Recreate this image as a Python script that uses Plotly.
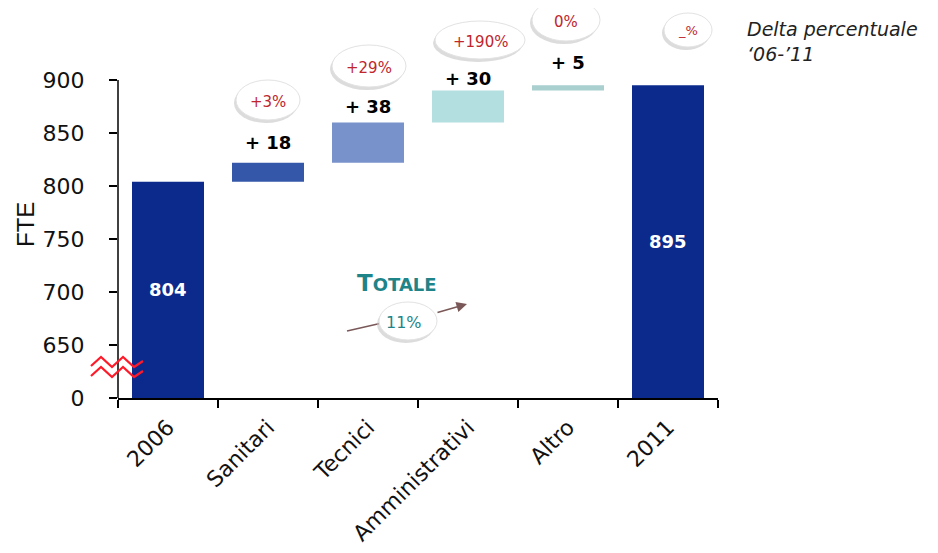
import plotly.graph_objects as go

# ---- data ----
categories = ["2006", "Sanitari", "Tecnici", "Amministrativi", "Altro", "2011"]
start_total = 804
deltas = [18, 38, 30, 5]
end_total = 895
delta_labels = ["+ 18", "+ 38", "+ 30", "+ 5"]
pct_labels = ["+3%", "+29%", "+190%", "0%"]
total_pct_label = "_%"
overall_pct = "11%"
ytick_vals = [600, 650, 700, 750, 800, 850, 900]
ytick_text = ["0", "650", "700", "750", "800", "850", "900"]

# ---- geometry: page is offset 8px by the body margin ----
OFF = 8
W, H = 938 - OFF, 553 - OFF
PLOT_L, PLOT_R, PLOT_B = 118, 718, 398          # page pixels of the plot area
L, R, B, T = PLOT_L - OFF, W - (PLOT_R - OFF), H - (PLOT_B - OFF), 0
Y0 = 600
PX_PER_UNIT = (398 - 80) / 300.0
Y1 = Y0 + (PLOT_B - OFF) / PX_PER_UNIT
PX_PER_CAT = (PLOT_R - PLOT_L) / 6.0

def dx(px):  # page pixel x -> category-axis coordinate
    return (px - PLOT_L) / PX_PER_CAT - 0.5

def px_paper(px):
    return (px - PLOT_L) / (PLOT_R - PLOT_L)

def dy(py):  # page pixel y -> data y
    return Y0 + (PLOT_B - py) / PX_PER_UNIT

FONT = "DejaVu Sans, Liberation Sans, Arial, sans-serif"
dark = "#0b2a8c"
bar_colors = [dark, "#3457a9", "#7892cc", "#b4dfe0", "#a9cfcf", dark]

# waterfall bases
bases = [0]
heights = [start_total]
run = start_total
for d in deltas:
    bases.append(run)
    heights.append(d)
    run += d
bases.append(0)
heights.append(end_total)

fig = go.Figure()
fig.add_trace(go.Bar(
    x=categories, y=heights, base=bases, width=0.72,
    marker=dict(color=bar_colors, line=dict(width=0)),
    hoverinfo="skip", showlegend=False,
))

shapes = []
annotations = []

# y axis line (only up to 900)
shapes.append(dict(type="line", xref="paper", yref="y", x0=0, x1=0, y0=Y0, y1=900,
                   line=dict(color="black", width=1.5), layer="above"))

# values inside first and last bars
for i, v in [(0, start_total), (5, end_total)]:
    annotations.append(dict(x=i, y=(Y0 + v) / 2, text=f"<b>{v}</b>",
                            showarrow=False, font=dict(color="white", size=18)))

# delta labels above bars
shifts = [8, 3, 0, 10]
for k, (d, lab) in enumerate(zip(deltas, delta_labels)):
    top = bases[k + 1] + heights[k + 1]
    annotations.append(dict(x=k + 1, y=top, yanchor="bottom", yshift=shifts[k],
                            text=f"<b>{lab}</b>", showarrow=False,
                            font=dict(color="black", size=18)))

# bubbles
def bubble(cx, cy, w, h):
    shapes.append(dict(type="circle", xref="x", yref="y",
                       x0=dx(cx - w / 2 - 2), x1=dx(cx + w / 2 - 2),
                       y0=dy(cy + h / 2 + 3), y1=dy(cy - h / 2 + 3),
                       fillcolor="#c4c4c4", opacity=0.6, line=dict(width=0), layer="above"))
    shapes.append(dict(type="circle", xref="x", yref="y",
                       x0=dx(cx - w / 2), x1=dx(cx + w / 2),
                       y0=dy(cy + h / 2), y1=dy(cy - h / 2),
                       fillcolor="white", line=dict(color="#e2e2e2", width=1), layer="above"))

bubble_px = [(268, 100, 64, 40), (369, 66, 74, 42), (480, 40, 90, 38), (566, 20, 68, 42)]
for (cx, cy, w, h), lab in zip(bubble_px, pct_labels):
    bubble(cx, cy, w, h)
    annotations.append(dict(x=dx(cx), y=dy(cy + 2), text=lab, showarrow=False,
                            font=dict(color="#c0262c", size=15)))
bubble(688, 30, 48, 34)
annotations.append(dict(x=dx(688), y=dy(30), text=total_pct_label, showarrow=False,
                        font=dict(color="#c0262c", size=13)))

# note
annotations.append(dict(xref="paper", x=px_paper(745), y=dy(41), xanchor="left",
                        text="<i>Delta percentuale<br>‘06-’11</i>", showarrow=False, align="left",
                        font=dict(color="#222222", size=19)))

# TOTALE arrow
shapes.append(dict(type="line", xref="x", yref="y", x0=dx(347), y0=dy(331), x1=dx(382), y1=dy(323),
                   line=dict(color="#7a5858", width=1.5), layer="above"))
bubble(408, 321, 58, 38)
annotations.append(dict(x=dx(467), y=dy(304), ax=dx(436), ay=dy(313), axref="x", ayref="y",
                        xref="x", yref="y", text="", showarrow=True, arrowhead=2,
                        arrowsize=1.4, arrowwidth=1.5, arrowcolor="#7a5858"))
annotations.append(dict(x=dx(404), y=dy(322), text=overall_pct, showarrow=False,
                        font=dict(color="#1f8488", size=16)))
annotations.append(dict(x=dx(397), y=dy(283), showarrow=False,
                        text="<b><span style='font-size:23px'>T</span>"
                             "<span style='font-size:18px'>OTALE</span></b>",
                        font=dict(color="#1f8488", size=18)))

# axis break zigzags
for off in (0, 10):
    pts = [(91, 366), (101, 357), (112, 367), (123, 357), (134, 367), (143, 361)]
    path = "M " + " L ".join(f"{px_paper(px)},{dy(py + off)}" for px, py in pts)
    shapes.append(dict(type="path", xref="paper", yref="y", path=path,
                       line=dict(color="#ff1a2a", width=2.2), layer="above"))

# FTE title
annotations.append(dict(xref="paper", x=px_paper(25), y=dy(225), xanchor="center",
                        yanchor="middle", text="FTE", textangle=-90, showarrow=False,
                        font=dict(color="#111111", size=24,
                                  family="Liberation Sans, Arial, sans-serif")))

fig.update_layout(
    width=W, height=H,
    margin=dict(l=L, r=R, t=T, b=B, autoexpand=False),
    paper_bgcolor="white", plot_bgcolor="white",
    font=dict(family=FONT, color="#111111"),
    shapes=shapes, annotations=annotations,
    xaxis=dict(range=[-0.5, 5.5], showline=True, linecolor="black", linewidth=1.5,
               ticks="outside", tickson="boundaries", ticklen=8, tickcolor="black",
               tickwidth=1.5, tickangle=-45, ticklabelstandoff=6,
               tickfont=dict(size=22, color="#111111"),
               showgrid=False, zeroline=False, fixedrange=True),
    yaxis=dict(range=[Y0, Y1], tickvals=ytick_vals, ticktext=ytick_text,
               showline=False, ticks="outside", ticklen=8, tickcolor="black", tickwidth=1.5,
               ticklabelstandoff=20, tickfont=dict(size=22, color="#111111"),
               showgrid=False, zeroline=False, fixedrange=True),
)

fig.write_html("out.html")
